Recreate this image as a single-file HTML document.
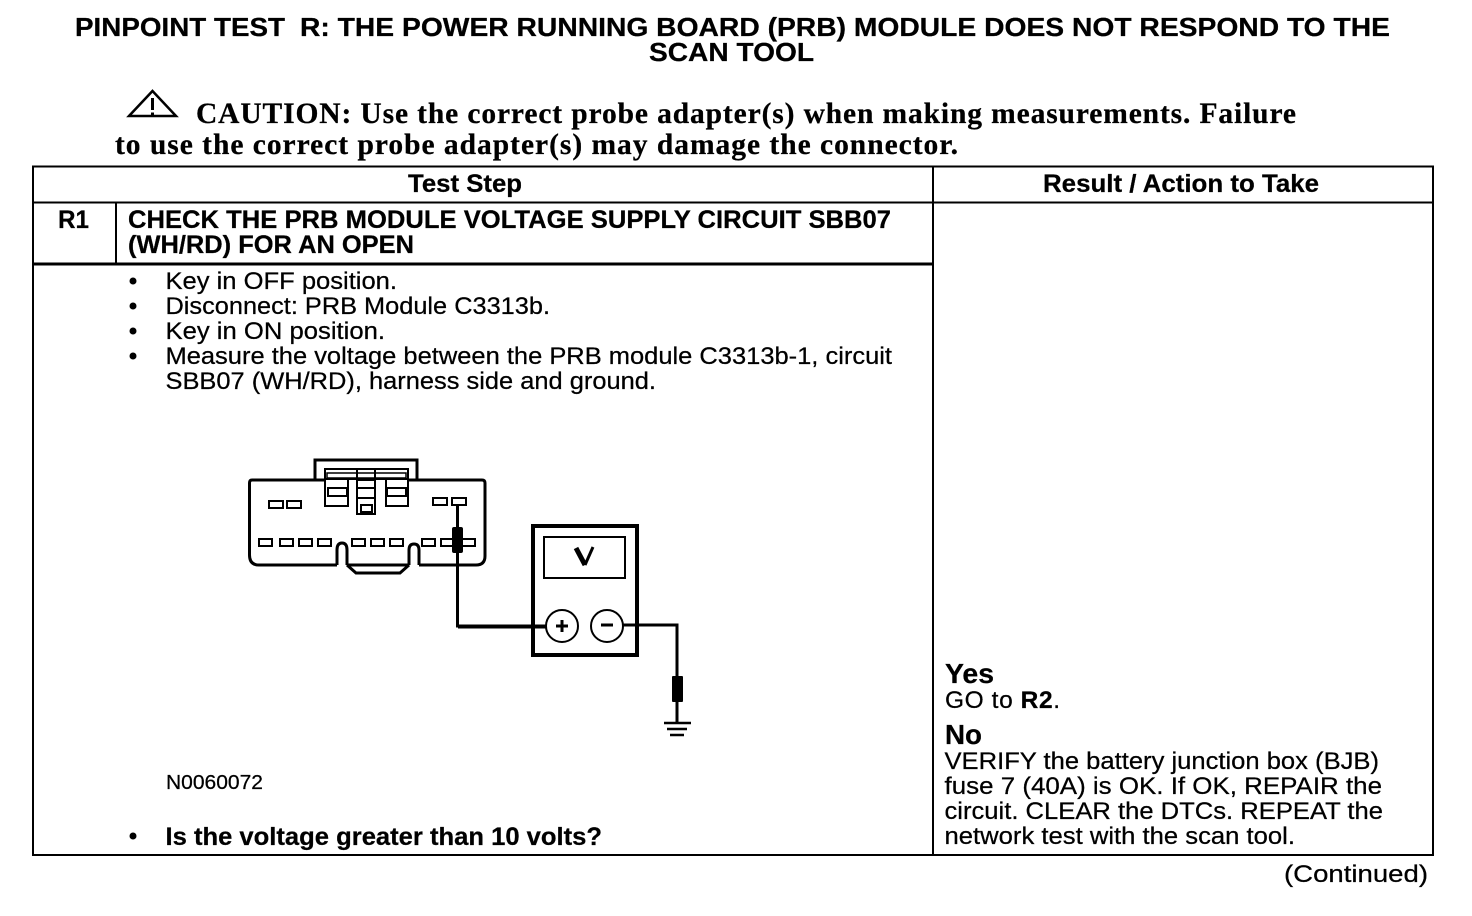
<!DOCTYPE html>
<html><head><meta charset="utf-8"><style>
html,body{margin:0;padding:0;background:#fff;width:1472px;height:916px;overflow:hidden}
svg{display:block}
text{font-family:"Liberation Sans",sans-serif;fill:#000;stroke:#000;stroke-width:.25px}
.b{font-weight:bold}
.s{font-family:"Liberation Serif",serif;font-weight:bold;font-size:29.500px}
.t{font-size:26px;font-weight:bold}
.h{font-size:25px;font-weight:bold}
.n{font-size:24.500px}
.big{font-size:28px;font-weight:bold}
</style></head><body>
<svg width="1472" height="916" viewBox="0 0 1472 916" xmlns="http://www.w3.org/2000/svg">
<text class="t" x="75" y="36" textLength="210" lengthAdjust="spacingAndGlyphs">PINPOINT TEST</text>
<text class="t" x="300" y="36" textLength="1090" lengthAdjust="spacingAndGlyphs">R: THE POWER RUNNING BOARD (PRB) MODULE DOES NOT RESPOND TO THE</text>
<text class="t" x="649" y="61" textLength="165" lengthAdjust="spacingAndGlyphs">SCAN TOOL</text>

<path d="M152.500 91 L176 116 L129 116 Z" fill="none" stroke="#000" stroke-width="2.500"/>
<path d="M152.500 98 V110 M152.500 112.500 V116" stroke="#000" stroke-width="3" fill="none"/>
<text class="s" x="196" y="123" textLength="1100">CAUTION: Use the correct probe adapter(s) when making measurements. Failure</text>
<text class="s" x="115" y="154" textLength="843">to use the correct probe adapter(s) may damage the connector.</text>

<g fill="none" stroke="#000">
<rect x="33" y="166.500" width="1400" height="688.500" stroke-width="2"/>
<path d="M33 202.500 H1433" stroke-width="2"/>
<path d="M933 166 V855" stroke-width="2"/>
<path d="M116 202 V264" stroke-width="2"/>
<path d="M33 264 H933" stroke-width="3"/>
</g>

<text class="h" x="408" y="192" textLength="114" lengthAdjust="spacingAndGlyphs">Test Step</text>
<text class="h" x="1043" y="192" textLength="276" lengthAdjust="spacingAndGlyphs">Result / Action to Take</text>
<text class="h" x="58" y="228" textLength="31" lengthAdjust="spacingAndGlyphs">R1</text>
<text class="h" x="128" y="228" textLength="763" lengthAdjust="spacingAndGlyphs">CHECK THE PRB MODULE VOLTAGE SUPPLY CIRCUIT SBB07</text>
<text class="h" x="128" y="253" textLength="286" lengthAdjust="spacingAndGlyphs">(WH/RD) FOR AN OPEN</text>

<g fill="#000">
<circle cx="133" cy="281" r="3.500"/><circle cx="133" cy="306" r="3.500"/><circle cx="133" cy="331" r="3.500"/><circle cx="133" cy="356" r="3.500"/><circle cx="133" cy="836" r="3.500"/>
</g>
<text class="n" x="165.500" y="289" textLength="231.500" lengthAdjust="spacingAndGlyphs">Key in OFF position.</text>
<text class="n" x="165.500" y="314" textLength="384.500" lengthAdjust="spacingAndGlyphs">Disconnect: PRB Module C3313b.</text>
<text class="n" x="165.500" y="339" textLength="219.500" lengthAdjust="spacingAndGlyphs">Key in ON position.</text>
<text class="n" x="165.500" y="364" textLength="726.500" lengthAdjust="spacingAndGlyphs">Measure the voltage between the PRB module C3313b-1, circuit</text>
<text class="n" x="165.500" y="389" textLength="490.500" lengthAdjust="spacingAndGlyphs">SBB07 (WH/RD), harness side and ground.</text>
<text x="166" y="789" font-size="20" textLength="97" lengthAdjust="spacingAndGlyphs">N0060072</text>
<text class="h" x="165.500" y="845" textLength="436.500" lengthAdjust="spacingAndGlyphs">Is the voltage greater than 10 volts?</text>

<!-- connector -->
<g fill="none" stroke="#000" stroke-width="2">
<path d="M315 480 V460 H417 V480" stroke-width="3"/>
<path d="M325 480 H252 Q249.500 480 249.500 483 V555 Q249.500 565 259 565 H337 M347 565 H409 M419 565 H476 Q485 565 485 556 V483 Q485 480 482 480 H408" stroke-width="3"/>
<rect x="325" y="469" width="83" height="10" stroke-width="2"/>
<rect x="327" y="473" width="79" height="5" stroke-width="1.500"/>
<path d="M325 469 V506 H348 V478 M408 469 V506 H386 V478" stroke-width="2"/>
<path d="M357 469 V514 H375 V469 M357 480 H375 M357 488 H375 M357 498 H375" stroke-width="2"/>
<rect x="328" y="488" width="19" height="8"/>
<rect x="387" y="488" width="19" height="8"/>
<rect x="361" y="505" width="11" height="7"/>
<rect x="269" y="501" width="14" height="7"/><rect x="287" y="501" width="14" height="7"/>
<rect x="433" y="498" width="14" height="7"/><rect x="452" y="498" width="14" height="7"/>
<rect x="259" y="539" width="13" height="7"/><rect x="280" y="539" width="13" height="7"/><rect x="299" y="539" width="13" height="7"/><rect x="318" y="539" width="13" height="7"/>
<rect x="352" y="539" width="13" height="7"/><rect x="371" y="539" width="13" height="7"/><rect x="390" y="539" width="13" height="7"/>
<rect x="422" y="539" width="13" height="7"/><rect x="441" y="539" width="13" height="7"/><rect x="462" y="539" width="13" height="7"/>
<path d="M337 565 V550 Q337 543 342 543 Q347 543 347 550 V565" stroke-width="3"/>
<path d="M409 565 V550 Q409 544 414 544 Q419 544 419 550 V565" stroke-width="3"/>
<path d="M347 565 L356 573 H400 L409 565" stroke-width="3"/>
</g>

<!-- probe and meter -->
<path d="M457.500 506 V626 H545" fill="none" stroke="#000" stroke-width="3"/>
<path d="M458 626.500 H546" stroke="#000" stroke-width="4"/>
<rect x="452" y="527" width="11" height="26" rx="2" fill="#000"/>
<rect x="533" y="526" width="104" height="129" fill="none" stroke="#000" stroke-width="4"/>
<rect x="544" y="537" width="81" height="41" fill="none" stroke="#000" stroke-width="2"/>
<path d="M576 548 L585 565" fill="none" stroke="#000" stroke-width="5"/>
<path d="M585 565 L593 547" fill="none" stroke="#000" stroke-width="3"/>
<circle cx="562" cy="626" r="16" fill="#fff" stroke="#000" stroke-width="2"/>
<circle cx="607" cy="626" r="16" fill="#fff" stroke="#000" stroke-width="2"/>
<path d="M556 626 H568 M562 620 V632 M601 625 H613" stroke="#000" stroke-width="3"/>
<path d="M623 625 H677 V676" fill="none" stroke="#000" stroke-width="3"/>
<rect x="672" y="676" width="11" height="26" rx="1" fill="#000"/>
<path d="M677 702 V722" stroke="#000" stroke-width="3"/>
<path d="M664 723 H691 M667 729 H687 M670 735 H684" stroke="#000" stroke-width="2.500"/>

<!-- right col -->
<text class="big" x="945" y="683" textLength="49" lengthAdjust="spacingAndGlyphs">Yes</text>
<text class="n" x="945" y="708" textLength="115" lengthAdjust="spacing">GO to <tspan class="b">R2</tspan>.</text>
<text class="big" x="945" y="744" textLength="37" lengthAdjust="spacingAndGlyphs">No</text>
<text class="n" x="944.500" y="769" textLength="434.500" lengthAdjust="spacingAndGlyphs">VERIFY the battery junction box (BJB)</text>
<text class="n" x="944.500" y="794" textLength="437.500" lengthAdjust="spacingAndGlyphs">fuse 7 (40A) is OK. If OK, REPAIR the</text>
<text class="n" x="944.500" y="819" textLength="438.500" lengthAdjust="spacingAndGlyphs">circuit. CLEAR the DTCs. REPEAT the</text>
<text class="n" x="944.500" y="844" textLength="350.500" lengthAdjust="spacingAndGlyphs">network test with the scan tool.</text>
<text class="n" x="1284" y="882" textLength="144" lengthAdjust="spacingAndGlyphs">(Continued)</text>
</svg>
</body></html>
